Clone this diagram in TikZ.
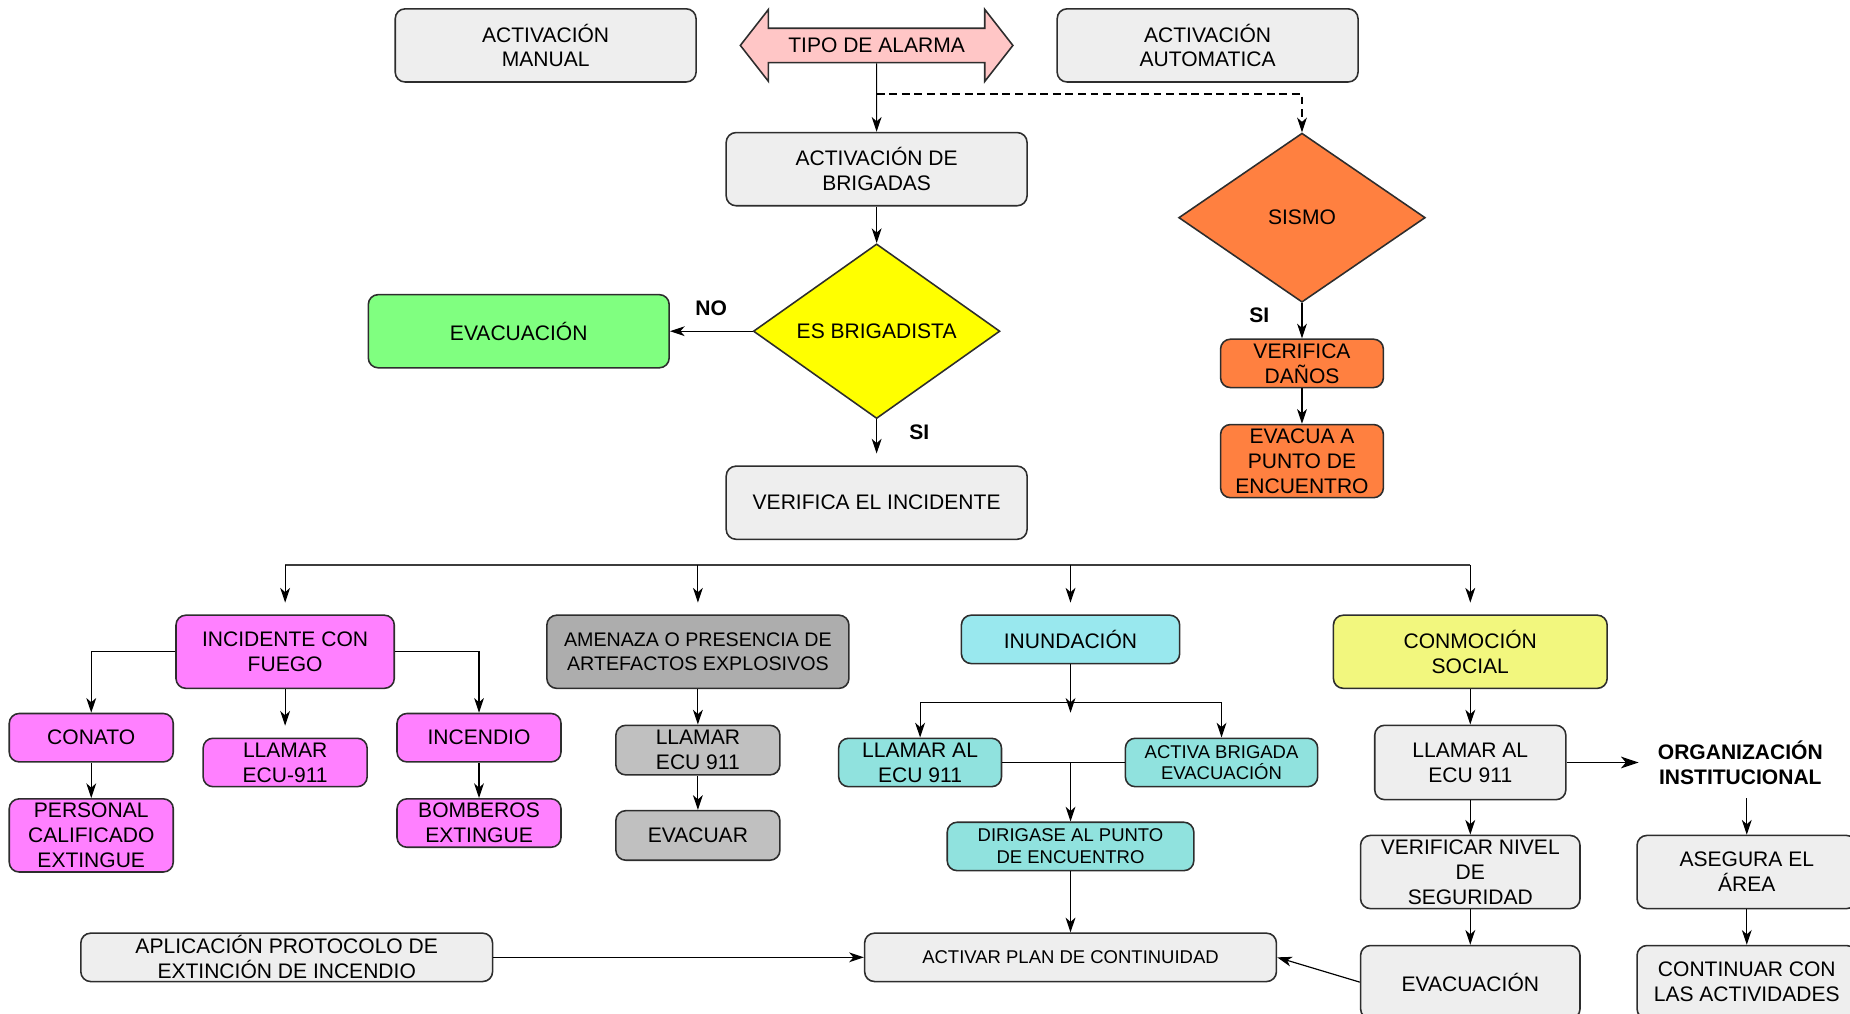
\documentclass[tikz,border=0pt]{standalone}
\usepackage{fontspec}
\setmainfont{Liberation Sans}
\usepackage{tikz}
\usetikzlibrary{shapes,arrows.meta,positioning}
\definecolor{boxgray}{RGB}{238,238,238}
\definecolor{framegray}{RGB}{45,45,45}
\definecolor{linegray}{RGB}{60,60,60}
\definecolor{alarmpink}{RGB}{255,198,198}
\definecolor{evacgreen}{RGB}{128,255,128}
\definecolor{brigyellow}{RGB}{255,255,0}
\definecolor{sismoorange}{RGB}{255,128,64}
\definecolor{firepink}{RGB}{255,128,255}
\definecolor{bombgray}{RGB}{173,173,173}
\definecolor{ecugray}{RGB}{192,192,192}
\definecolor{floodcyan}{RGB}{153,232,238}
\definecolor{floodteal}{RGB}{144,226,222}
\definecolor{socialyellow}{RGB}{242,247,126}
\newcommand{\boxfont}{\fontsize{10.7}{12.6}\selectfont}
\newcommand{\smallboxfont}{\fontsize{9.4}{11}\selectfont}
\tikzstyle{flowbox} = [rectangle, rounded corners=5pt, draw=framegray, line width=0.8pt, fill=boxgray, text=black, align=center, inner sep=1pt, font=\boxfont]
\tikzstyle{tallbox} = [minimum height=37.2pt]
\tikzstyle{shortbox} = [minimum height=24.6pt]
\tikzstyle{decision} = [diamond, draw=framegray, line width=0.8pt, text=black, align=center, inner sep=0pt, font=\boxfont, minimum width=125.4pt, minimum height=85pt]
\tikzstyle{alarm} = [double arrow, draw=framegray, line width=0.8pt, fill=alarmpink, text=black, font=\boxfont, double arrow tip angle=104, double arrow head extend=5.7pt, minimum height=138.6pt, minimum width=36.6pt, inner sep=1pt]
\tikzstyle{lbl} = [font=\boxfont\bfseries, text=black]
\tikzstyle{tedge} = [draw, line width=0.6pt, >={Stealth[length=7.5pt,width=5pt,inset=2.2pt]}, ->]
\tikzstyle{gapedge} = [tedge, shorten >=6pt]
\tikzstyle{dedge} = [tedge, dash pattern=on 4pt off 2.4pt]
\tikzstyle{busline} = [draw=linegray, line width=0.9pt]

\begin{document}
\begin{tikzpicture}[auto]
\useasboundingbox (-445.8pt,23.1pt) rectangle (495pt,-492.3pt);

% alarm type =============================

\node[alarm] (tipo) {TIPO DE ALARMA};
\node[flowbox, tallbox, minimum width=153pt, left=21.6pt of tipo] (manual) {ACTIVACIÓN\\MANUAL};
\node[flowbox, tallbox, minimum width=153pt, right=21.6pt of tipo] (automatic) {ACTIVACIÓN\\AUTOMATICA};

% brigades
\node[flowbox, tallbox, minimum width=153pt, below=34.8pt of tipo] (brigadas) {ACTIVACIÓN DE\\BRIGADAS};
\coordinate[above=19.2pt of brigadas] (alarmsplit);
\node[decision, fill=brigyellow, below=18.6pt of brigadas] (esbrig) {ES BRIGADISTA};
\node[flowbox, tallbox, minimum width=153pt, fill=evacgreen, left=42pt of esbrig] (evacverde) {EVACUACIÓN};
\node[flowbox, tallbox, minimum width=153pt, below=23.4pt of esbrig] (verinc) {VERIFICA EL INCIDENTE};

% earthquake
\node[decision, fill=sismoorange, minimum height=86pt, below=25.2pt of automatic, xshift=48pt] (sismo) {SISMO};
\node[flowbox, shortbox, minimum width=82.8pt, fill=sismoorange, below=18pt of sismo] (danos) {VERIFICA\\DAÑOS};
\node[flowbox, tallbox, minimum width=82.8pt, fill=sismoorange, below=18pt of danos] (evacua) {EVACUA A\\PUNTO DE\\ENCUENTRO};

% incidents =============================

\coordinate[below=12.6pt of verinc] (bus);
\node[flowbox, tallbox, minimum width=153.6pt, fill=bombgray, font=\fontsize{10}{12}\selectfont, below=37.8pt of verinc, xshift=-90.9pt] (amenaza) {AMENAZA O PRESENCIA DE\\ARTEFACTOS EXPLOSIVOS};
\node[flowbox, tallbox, minimum width=111pt, fill=firepink, left=76.8pt of amenaza] (fuego) {INCIDENTE CON\\FUEGO};
\node[flowbox, shortbox, minimum width=111pt, fill=floodcyan, right=56.4pt of amenaza.north east, anchor=north west] (inund) {INUNDACIÓN};
\node[flowbox, tallbox, minimum width=139.2pt, fill=socialyellow, right=77.4pt of inund.north east, anchor=north west] (conmocion) {CONMOCIÓN\\SOCIAL};

% fire
\node[flowbox, shortbox, minimum width=83.4pt, fill=firepink, below left=12pt and 0.6pt of fuego] (conato) {CONATO};
\node[flowbox, shortbox, minimum width=83.4pt, fill=firepink, below right=12pt and 0.6pt of fuego] (incendio) {INCENDIO};
\node[flowbox, shortbox, minimum width=83.4pt, fill=firepink, below=24.6pt of fuego] (llamarfuego) {LLAMAR\\ECU-911};
\node[flowbox, tallbox, minimum width=83.4pt, fill=firepink, below=18pt of conato] (personal) {PERSONAL\\CALIFICADO\\EXTINGUE};
\node[flowbox, shortbox, minimum width=83.4pt, fill=firepink, below=18pt of incendio] (bomberos) {BOMBEROS\\EXTINGUE};

% explosives
\node[flowbox, minimum height=25.2pt, minimum width=83.4pt, fill=ecugray, below=18pt of amenaza] (llamarecu) {LLAMAR\\ECU 911};
\node[flowbox, minimum height=25.2pt, minimum width=83.4pt, fill=ecugray, below=17.4pt of llamarecu] (evacuar) {EVACUAR};

% flood
\coordinate[below=19.2pt of inund] (split);
\coordinate[below=5.4pt of split] (splittip);
\node[flowbox, shortbox, minimum width=82.8pt, fill=floodteal, below=37.2pt of inund, xshift=-76.5pt] (llamarinund) {LLAMAR AL\\ECU 911};
\node[flowbox, shortbox, minimum width=97.8pt, fill=floodteal, font=\smallboxfont, below=37.2pt of inund, xshift=76.8pt] (brigadaevac) {ACTIVA BRIGADA\\EVACUACIÓN};
\coordinate (join) at (inund |- llamarinund);
\node[flowbox, shortbox, minimum width=125.4pt, fill=floodteal, font=\smallboxfont, below=30pt of join] (dirigase) {DIRIGASE AL PUNTO\\DE ENCUENTRO};

% continuity
\node[flowbox, shortbox, minimum width=209.4pt, font=\smallboxfont, below=31pt of dirigase] (plan) {ACTIVAR PLAN DE CONTINUIDAD};
\node[flowbox, shortbox, minimum width=209.4pt, left=188.4pt of plan] (protocolo) {APLICACIÓN PROTOCOLO DE\\EXTINCIÓN DE INCENDIO};

% social unrest
\node[flowbox, minimum height=37.8pt, minimum width=97.2pt, below=18pt of conmocion] (llamarsocial) {LLAMAR AL\\ECU 911};
\node[lbl, align=center, inner xsep=9.6pt, inner ysep=7pt, right=36.6pt of llamarsocial] (org) {ORGANIZACIÓN\\INSTITUCIONAL};
\node[flowbox, tallbox, minimum width=111.6pt, below=17.4pt of llamarsocial] (nivel) {VERIFICAR NIVEL\\DE\\SEGURIDAD};
\node[flowbox, tallbox, minimum width=111.6pt, right=28.2pt of nivel] (asegura) {ASEGURA EL\\ÁREA};
\node[flowbox, tallbox, minimum width=111.6pt, below=18pt of nivel] (evacsocial) {EVACUACIÓN};
\node[flowbox, tallbox, minimum width=111.6pt, below=18pt of asegura] (continuar) {CONTINUAR CON\\LAS ACTIVIDADES};

%edges
\path[tedge] (tipo) -- (brigadas);
\path[dedge] (alarmsplit) -| (sismo);
\path[tedge] (brigadas) -- (esbrig);
\path[tedge] (esbrig) -- node[lbl, above=4pt] (nolbl) {NO} (evacverde);
\path[gapedge] (esbrig) -- node[lbl, right=13pt, pos=0.28] (silbl) {SI} (verinc);
\path[tedge] (sismo) -- node[lbl, left=13pt, pos=0.34] (sismolbl) {SI} (danos);
\path[tedge] (danos) -- (evacua);

\path[busline] (fuego.north |- bus) -- (conmocion.north |- bus);
\path[gapedge] (fuego.north |- bus) -- (fuego);
\path[gapedge] (amenaza.north |- bus) -- (amenaza);
\path[gapedge] (inund.north |- bus) -- (inund);
\path[gapedge] (conmocion.north |- bus) -- (conmocion);

\path[tedge] (fuego) -| (conato);
\path[tedge] (fuego) -| (incendio);
\path[gapedge] (fuego) -- (llamarfuego);
\path[tedge] (conato) -- (personal);
\path[tedge] (incendio) -- (bomberos);

\path[tedge] (amenaza) -- (llamarecu);
\path[tedge] (llamarecu) -- (evacuar);

\path[tedge] (inund) -- (splittip);
\path[tedge] (split) -| (llamarinund);
\path[tedge] (split) -| (brigadaevac);
\path[draw, line width=0.6pt] (llamarinund) -- (brigadaevac);
\path[tedge] (join) -- (dirigase);
\path[tedge] (dirigase) -- (plan);
\path[tedge] (protocolo) -- (plan);

\path[tedge] (conmocion) -- (llamarsocial);
\path[tedge, >={Stealth[length=9pt,width=6pt,inset=2.5pt]}] (llamarsocial) -- (org);
\path[tedge] (asegura |- org.south) -- (asegura);
\path[tedge] (llamarsocial) -- (nivel);
\path[tedge] (nivel) -- (evacsocial);
\path[tedge] (asegura) -- (continuar);
\path[tedge] (evacsocial.west) -- (plan.east);

\end{tikzpicture}
\end{document}
